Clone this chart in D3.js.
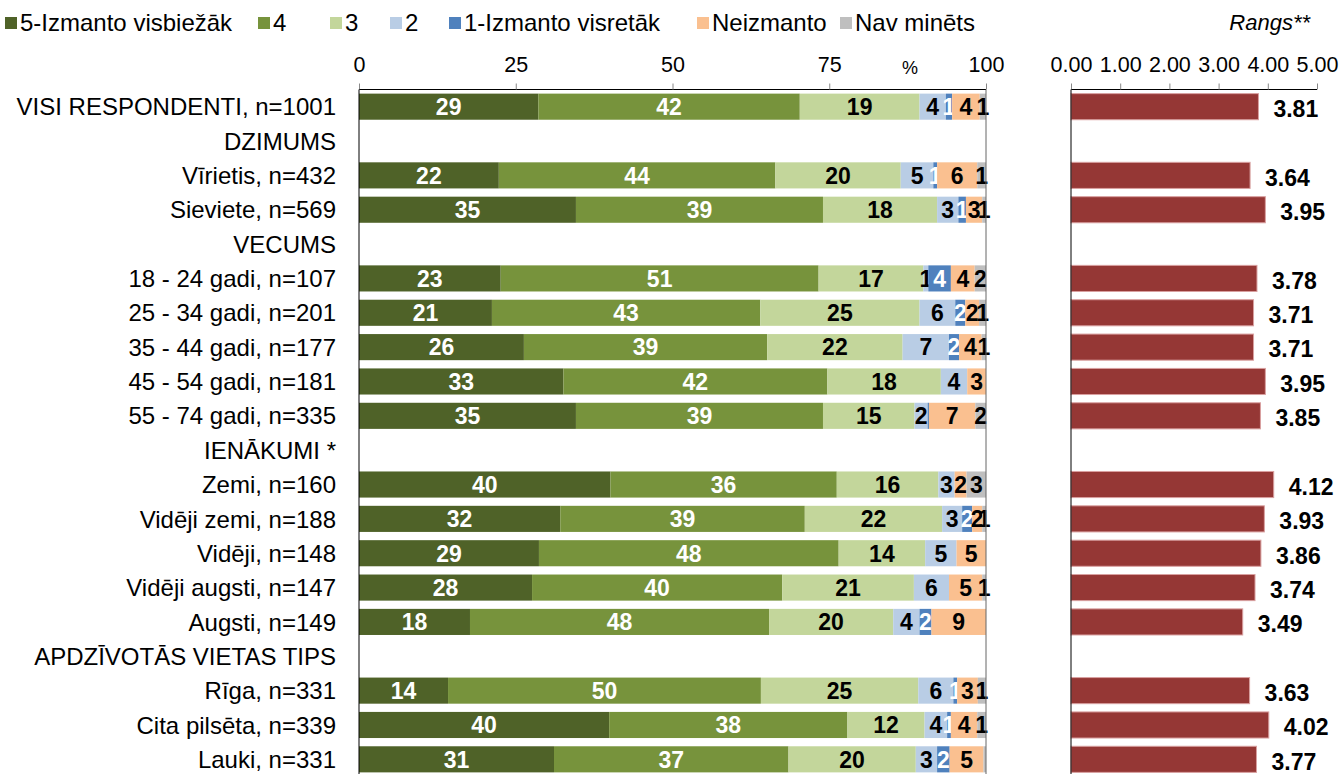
<!DOCTYPE html>
<html>
<head>
<meta charset="utf-8">
<script src="https://cdn.jsdelivr.net/npm/d3@7"></script>
<style>
  body { margin: 0; background: #fff; }
  text { font-family: "Liberation Sans", Arial, sans-serif; }
</style>
</head>
<body>
<script>
// row labels, headers have no data
var categories = [
    "VISI RESPONDENTI, n=1001", "DZIMUMS", "Vīrietis, n=432", "Sieviete, n=569",
    "VECUMS", "18 - 24 gadi, n=107", "25 - 34 gadi, n=201", "35 - 44 gadi, n=177",
    "45 - 54 gadi, n=181", "55 - 74 gadi, n=335", "IENĀKUMI *", "Zemi, n=160",
    "Vidēji zemi, n=188", "Vidēji, n=148", "Vidēji augsti, n=147", "Augsti, n=149",
    "APDZĪVOTĀS VIETAS TIPS", "Rīga, n=331", "Cita pilsēta, n=339", "Lauki, n=331"
];

var seriesNames = ["5-Izmanto visbiežāk", "4", "3", "2", "1-Izmanto visretāk", "Neizmanto", "Nav minēts"];

// one list per series, in row order (null = header row)
var s5 = [28.6, null, 22.3, 34.6, null, 22.6, 21.2, 26.3, 32.6, 34.6, null, 40.1, 32.1, 28.7, 27.6, 17.7, null, 14.2, 39.9, 31.1];
var s4 = [41.7, null, 44.1, 39.4, null, 50.7, 42.8, 38.8, 42.1, 39.4, null, 36.1, 39.0, 47.8, 39.9, 47.7, null, 49.9, 38.0, 37.4];
var s3 = [19.1, null, 20.0, 18.2, null, 16.7, 25.4, 21.6, 18.1, 14.6, null, 16.2, 21.9, 13.8, 21.0, 19.8, null, 25.1, 12.3, 20.3];
var s2 = [4.2, null, 5.2, 3.4, null, 0.8, 5.7, 7.4, 4.2, 2.1, null, 2.6, 3.2, 5.0, 5.6, 4.2, null, 5.6, 3.6, 3.4];
var s1 = [1.0, null, 0.6, 1.2, null, 3.6, 1.6, 1.6, 0, 0.2, null, 0, 1.6, 0, 0, 1.9, null, 0.6, 0.6, 2.0];
var sNe = [4.4, null, 6.4, 2.6, null, 3.8, 2.2, 3.6, 3.0, 7.4, null, 1.9, 1.6, 4.7, 5.3, 8.7, null, 3.3, 4.2, 5.4];
var sNav = [1.0, null, 1.4, 0.6, null, 1.8, 1.1, 0.7, 0, 1.7, null, 3.1, 0.6, 0, 0.6, 0, null, 1.3, 1.4, 0.4];

var rank = [3.81, null, 3.64, 3.95, null, 3.78, 3.71, 3.71, 3.95, 3.85, null, 4.12, 3.93, 3.86, 3.74, 3.49, null, 3.63, 4.02, 3.77];

var pctTicks = [0, 25, 50, 75, 100];
var rankTicks = [0, 1, 2, 3, 4, 5];

var colors = ["#4f6228", "#77933c", "#c3d69b", "#b9cde5", "#4f81bd", "#fac090", "#bfbfbf"];
var labelColors = ["#fff", "#fff", "#000", "#000", "#fff", "#000", "#000"];

var width = 1340;
var height = 774;

const svg = d3.select("body").append("svg")
    .attr("width", width)
    .attr("height", height);

var rows = categories.map(function (c, i) {
    return { name: c, i: i, vals: [s5[i], s4[i], s3[i], s2[i], s1[i], sNe[i], sNav[i]], rank: rank[i] };
});

var y = d3.scaleBand()
    .domain(d3.range(categories.length))
    .range([89.5, 89.5 + 34.35 * categories.length])
    .paddingInner(0.24)
    .paddingOuter(0.12);

var x = d3.scaleLinear().domain([0, 100]).range([359, 986]);
var xr = d3.scaleLinear().domain([0, 5]).range([1071, 1317]);

// legend
var legendX = [5, 258, 330, 390, 449, 697, 840];
var legend = svg.append("g").attr("class", "legend");
seriesNames.forEach(function (n, k) {
    legend.append("rect")
        .attr("x", legendX[k]).attr("y", 17)
        .attr("width", 12).attr("height", 12)
        .attr("fill", colors[k]);
    legend.append("text")
        .attr("x", legendX[k] + 15).attr("y", 23)
        .attr("dy", "0.35em")
        .attr("font-size", 24)
        .attr("fill", "#000")
        .text(n);
});

svg.append("text")
    .attr("x", 1310).attr("y", 22).attr("dy", "0.35em")
    .attr("text-anchor", "end")
    .attr("font-size", 22)
    .attr("font-style", "italic")
    .text("Rangs**");

// top axes
var axisMain = svg.append("g")
    .attr("transform", "translate(0,89.5)")
    .call(d3.axisTop(x).tickValues(pctTicks).tickSize(6).tickPadding(12).tickFormat(d3.format("d")));
var axisRank = svg.append("g")
    .attr("transform", "translate(0,89.5)")
    .call(d3.axisTop(xr).tickValues(rankTicks).tickSize(6).tickPadding(12).tickFormat(d3.format(".2f")));
[axisMain, axisRank].forEach(function (a) {
    a.select(".domain").attr("stroke", "#000").attr("d", function () {
        var r = a === axisMain ? x.range() : xr.range();
        return "M" + r[0] + ",0H" + r[1];
    });
    a.selectAll(".tick line").attr("stroke", "#888");
    a.selectAll(".tick text")
        .attr("font-size", 21.5)
        .attr("fill", "#000")
        .attr("font-family", "Liberation Sans, Arial, sans-serif");
});

svg.append("text")
    .attr("x", 910).attr("y", 74)
    .attr("text-anchor", "middle")
    .attr("font-size", 18)
    .text("%");

// stacked bars
var barRows = svg.append("g").attr("class", "bars")
    .selectAll("g")
    .data(rows.filter(function (d) { return d.vals[0] !== null; }))
    .enter()
    .append("g");

barRows.each(function (d) {
    var g = d3.select(this);
    var acc = 0;
    d.vals.forEach(function (v, k) {
        var x0 = acc;
        acc += v;
        if (v <= 0) return;
        g.append("rect")
            .attr("x", x(x0))
            .attr("y", y(d.i))
            .attr("width", x(acc) - x(x0))
            .attr("height", y.bandwidth())
            .attr("fill", colors[k]);
        if (v >= 0.5) {
            g.append("text")
                .attr("x", (x(x0) + x(acc)) / 2)
                .attr("y", y(d.i) + y.bandwidth() / 2)
                .attr("dy", "0.36em")
                .attr("text-anchor", "middle")
                .attr("font-size", 23)
                .attr("font-weight", "bold")
                .attr("fill", labelColors[k])
                .text(d3.format(".0f")(v));
        }
    });
});

// frame lines of the main panel
svg.append("line")
    .attr("x1", x(0)).attr("x2", x(0))
    .attr("y1", 89.5).attr("y2", height)
    .attr("stroke", "#000");
svg.append("line")
    .attr("x1", x(100)).attr("x2", x(100))
    .attr("y1", 89.5).attr("y2", height)
    .attr("stroke", "#666");

// rank bars
var rankRows = rows.filter(function (d) { return d.rank !== null; });
svg.append("g").attr("class", "rankBars")
    .selectAll("rect")
    .data(rankRows)
    .enter()
    .append("rect")
    .attr("x", xr(0))
    .attr("y", function (d) { return y(d.i); })
    .attr("width", function (d) { return xr(d.rank) - xr(0); })
    .attr("height", y.bandwidth())
    .attr("fill", "#953735")
    .attr("stroke", "#d9a0a0")
    .attr("stroke-width", 1);

svg.append("g").attr("class", "rankLabels")
    .selectAll("text")
    .data(rankRows)
    .enter()
    .append("text")
    .attr("x", function (d) { return xr(d.rank) + 15; })
    .attr("y", function (d) { return y(d.i) + y.bandwidth() / 2 + 2; })
    .attr("dy", "0.36em")
    .attr("font-size", 23)
    .attr("font-weight", "bold")
    .text(function (d) { return d3.format(".2f")(d.rank); });

svg.append("line")
    .attr("x1", xr(0)).attr("x2", xr(0))
    .attr("y1", 89.5).attr("y2", height)
    .attr("stroke", "#000");

// category labels
svg.append("g").attr("class", "catLabels")
    .selectAll("text")
    .data(rows)
    .enter()
    .append("text")
    .attr("x", 336)
    .attr("y", function (d) { return y(d.i) + y.bandwidth() / 2; })
    .attr("dy", "0.36em")
    .attr("text-anchor", "end")
    .attr("font-size", 24)
    .text(function (d) { return d.name; });
</script>
</body>
</html>
